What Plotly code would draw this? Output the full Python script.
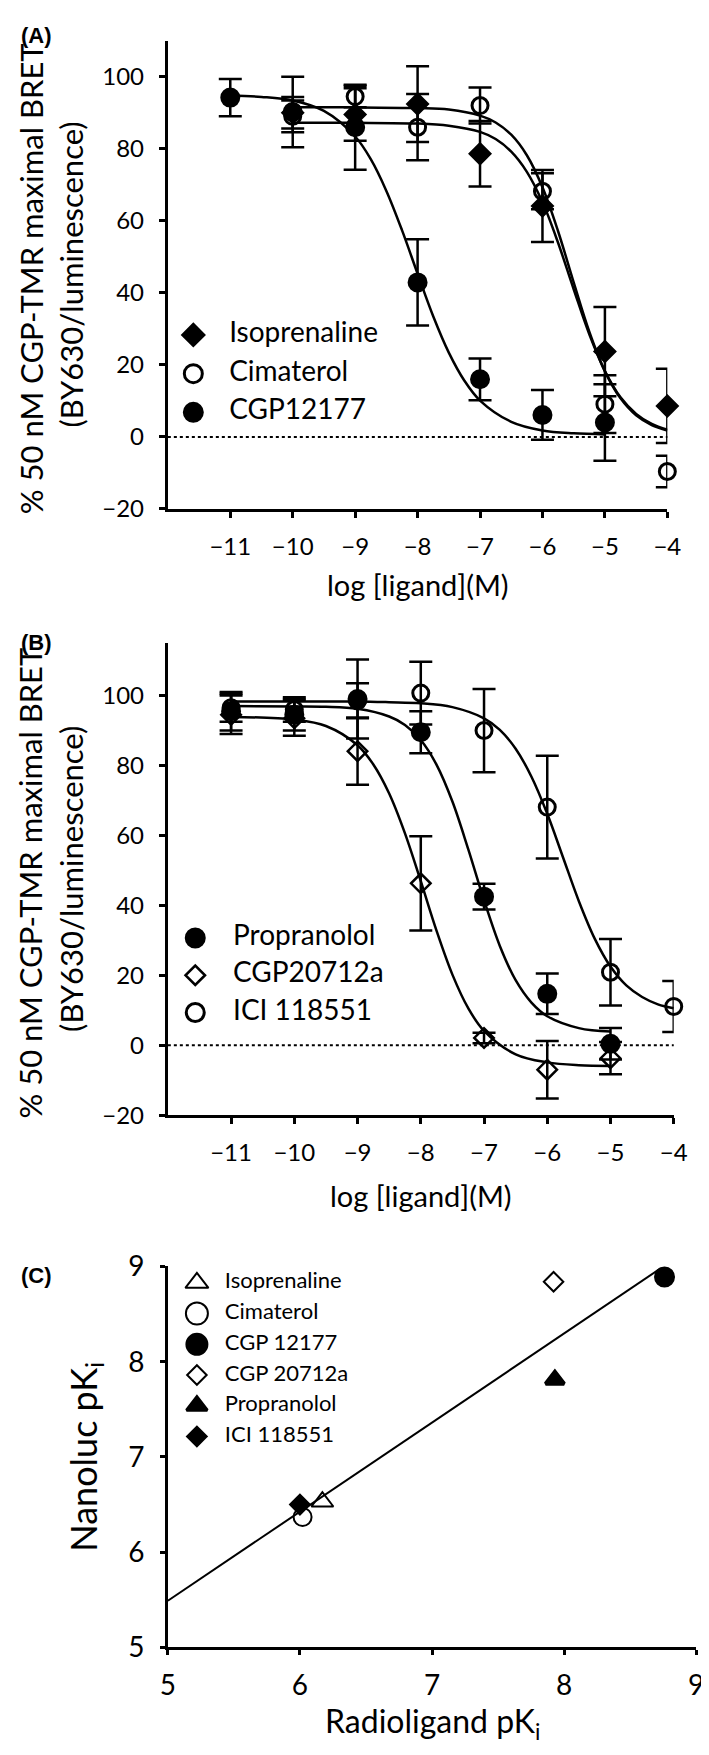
import plotly.graph_objects as go

FONT = "Lato"
W, H = 709, 1755

LOG_DOSE_TICKS = [-11, -10, -9, -8, -7, -6, -5, -4]

# (A) agonists / CGP12177: mean and SEM
ISO_X = [-10, -9, -8, -7, -6, -5, -4]
ISO_Y = [90.0, 89.5, 92.4, 78.6, 64.1, 23.7, 8.6]
ISO_ERR = [4.4, 7.3, 10.5, 9.1, 10.0, 12.4, 10.3]

CIM_X = [-10, -9, -8, -7, -6, -5, -4]
CIM_Y = [89.0, 94.5, 86.0, 92.0, 68.2, 9.1, -9.6]
CIM_ERR = [4.4, 3.0, 9.2, 5.0, 5.0, 8.0, 4.4]

CGP12177_X = [-11, -10, -9, -8, -7, -6, -5]
CGP12177_Y = [94.2, 90.2, 86.0, 42.9, 16.0, 6.1, 4.0]
CGP12177_ERR = [5.2, 9.8, 11.8, 12.0, 5.8, 6.9, 10.6]

# fitted curves in (A)
ISO_FIT_X = [-10, -9, -8, -7.5, -7, -6.75, -6.5, -6.25, -6, -5.75, -5.5, -5.25, -5, -4.75, -4.5, -4.25, -4]
ISO_FIT_Y = [91.5, 91.5, 91.3, 90.9, 89.2, 87.3, 83.9, 78.2, 69.3, 57.1, 42.9, 29.2, 18.2, 10.7, 6.0, 3.3, 1.8]
CIM_FIT_X = ISO_FIT_X
CIM_FIT_Y = [87.2, 87.2, 87.0, 86.4, 84.7, 82.7, 79.2, 73.6, 65.2, 53.9, 41.0, 28.5, 18.3, 11.0, 6.4, 3.6, 2.0]
CGP12177_FIT_X = [-11, -10.5, -10, -9.5, -9, -8.75, -8.5, -8.25, -8, -7.75, -7.5, -7.25, -7, -6.5, -6, -5.5, -5]
CGP12177_FIT_Y = [94.8, 94.4, 93.4, 90.5, 83.4, 77.1, 68.3, 57.4, 45.3, 33.5, 23.4, 15.6, 10.1, 4.2, 1.8, 1.0, 0.7]

# (B) antagonists
PROP_X = [-11, -10, -9, -8, -7, -6, -5]
PROP_Y = [95.5, 94.5, 99.0, 89.5, 42.5, 14.7, 0.4]
PROP_ERR = [5.5, 4.5, 11.3, 6.0, 3.7, 5.8, 4.5]

CGP20712_X = [-11, -10, -9, -8, -7, -6, -5]
CGP20712_Y = [94.5, 93.5, 84.1, 46.3, 2.1, -7.0, -3.7]
CGP20712_ERR = [5.5, 5.0, 9.6, 13.5, 1.5, 8.2, 4.6]

ICI_X = [-11, -10, -9, -8, -7, -6, -5, -4]
ICI_Y = [96.5, 96.0, 98.5, 100.7, 90.0, 68.1, 20.9, 11.1]
ICI_ERR = [4.0, 3.5, 5.0, 9.0, 11.9, 14.7, 9.5, 7.3]

PROP_FIT_X = [-11, -10, -9.5, -9, -8.5, -8.25, -8, -7.75, -7.5, -7.25, -7, -6.75, -6.5, -6.25, -6, -5.5, -5]
PROP_FIT_Y = [97.0, 96.9, 96.8, 96.2, 94.0, 91.6, 87.3, 80.2, 69.7, 56.1, 41.5, 28.4, 18.6, 12.2, 8.3, 4.9, 3.9]
CGP20712_FIT_X = [-11, -10, -9.5, -9, -8.75, -8.5, -8.25, -8, -7.75, -7.5, -7.25, -7, -6.5, -6, -5.5, -5]
CGP20712_FIT_Y = [93.9, 93.1, 91.3, 85.8, 80.3, 72.0, 60.6, 46.9, 32.7, 20.2, 10.6, 4.1, -2.6, -4.9, -5.7, -5.9]
ICI_FIT_X = [-11, -10, -9, -8.5, -8, -7.5, -7, -6.75, -6.5, -6.25, -6, -5.75, -5.5, -5.25, -5, -4.75, -4.5, -4.25, -4]
ICI_FIT_Y = [98.3, 98.3, 98.3, 98.1, 97.8, 96.7, 93.5, 90.2, 84.8, 76.8, 66.2, 53.7, 41.2, 30.5, 22.5, 17.1, 13.8, 11.7, 10.6]

# (C) pKi comparison
LIGANDS_C = ["Isoprenaline", "Cimaterol", "CGP 12177", "CGP 20712a", "Propranolol", "ICI 118551"]
RADIO_PKI = [6.17, 6.02, 8.76, 7.92, 7.93, 6.00]
NANOLUC_PKI = [6.53, 6.37, 8.89, 8.84, 7.81, 6.50]
REGRESSION_X = [5.0, 8.73]
REGRESSION_Y = [5.49, 8.98]

LEGEND_A = ["Isoprenaline", "Cimaterol", "CGP12177"]
LEGEND_B = ["Propranolol", "CGP20712a", "ICI 118551"]

# marker look per ligand in (C): symbol, size, outline width
STYLE_C = [("triangle-up-open", 19, 2), ("circle-open", 18, 2), ("circle", 16, 5),
           ("diamond-open", 15, 2), ("triangle-up", 16, 4), ("diamond", 13, 4)]
KEY_STYLE_A = [("diamond", 14, 5), ("circle-open", 18, 3), ("circle", 16, 5)]
KEY_STYLE_B = [("circle", 16, 5), ("diamond-open", 15, 2.5), ("circle-open", 18, 3)]
KEY_STYLE_C = [("triangle-up-open", 20, 2), ("circle-open", 22, 2), ("circle", 18, 5),
               ("diamond-open", 15, 2), ("triangle-up", 18, 3), ("diamond", 13, 4)]


def px_x(v):
  return v / W


def px_y(v):
  return 1 - v / H


def data_trace(x, y, err, symbol, size, lw, xa, ya):
  return go.Scatter(x=x, y=y, mode="markers",
                    marker=dict(symbol=symbol, size=size, color="black", opacity=1,
                                line=dict(color="black", width=lw)),
                    error_y=dict(type="data", array=err, color="black",
                                 thickness=2.5, width=11.5),
                    xaxis=xa, yaxis=ya, cliponaxis=False)


def fit_trace(x, y, xa, ya):
  return go.Scatter(x=x, y=y, mode="lines",
                    line=dict(color="black", width=2.5, shape="spline"),
                    xaxis=xa, yaxis=ya, hoverinfo="skip")


def key_traces(names, styles, font_size, xa, ya):
  """Legend block: a symbol column and a label column on a small hidden category axis."""
  symbols, sizes, widths = zip(*styles)
  keys = go.Scatter(x=["key"] * len(names), y=names, mode="markers", hoverinfo="skip",
                    marker=dict(symbol=list(symbols), size=list(sizes), color="black",
                                opacity=1, line=dict(color="black", width=list(widths))),
                    xaxis=xa, yaxis=ya, cliponaxis=False)
  labels = go.Scatter(x=["label"] * len(names), y=names, mode="text", text=names,
                      textposition="middle right", hoverinfo="skip",
                      textfont=dict(family=FONT, size=font_size, color="black"),
                      xaxis=xa, yaxis=ya, cliponaxis=False)
  return [keys, labels]


def key_axes(n, names, key_px, label_px, first_row_px, last_row_px):
  half = (label_px - key_px) / 2
  step = (last_row_px - first_row_px) / (len(names) - 1)
  xa = dict(domain=[px_x(key_px - half), px_x(label_px + half)], type="category",
            categoryarray=["key", "label"], range=[-0.5, 1.5], visible=False,
            anchor=f"y{n}", fixedrange=True)
  ya = dict(domain=[px_y(last_row_px + step / 2), px_y(first_row_px - step / 2)],
            type="category", categoryarray=names[::-1], range=[-0.5, len(names) - 0.5],
            visible=False, anchor=f"x{n}", fixedrange=True)
  return {f"xaxis{n}": xa, f"yaxis{n}": ya}


fig = go.Figure()

# panel A
fig.add_trace(fit_trace(ISO_FIT_X, ISO_FIT_Y, "x", "y"))
fig.add_trace(fit_trace(CIM_FIT_X, CIM_FIT_Y, "x", "y"))
fig.add_trace(fit_trace(CGP12177_FIT_X, CGP12177_FIT_Y, "x", "y"))
fig.add_trace(data_trace(ISO_X, ISO_Y, ISO_ERR, "diamond", 13, 5, "x", "y"))
fig.add_trace(data_trace(CIM_X, CIM_Y, CIM_ERR, "circle-open", 16, 3, "x", "y"))
fig.add_trace(data_trace(CGP12177_X, CGP12177_Y, CGP12177_ERR, "circle", 15, 5, "x", "y"))

# panel B
fig.add_trace(fit_trace(PROP_FIT_X, PROP_FIT_Y, "x2", "y2"))
fig.add_trace(fit_trace(CGP20712_FIT_X, CGP20712_FIT_Y, "x2", "y2"))
fig.add_trace(fit_trace(ICI_FIT_X, ICI_FIT_Y, "x2", "y2"))
fig.add_trace(data_trace(ICI_X, ICI_Y, ICI_ERR, "circle-open", 16, 3, "x2", "y2"))
fig.add_trace(data_trace(CGP20712_X, CGP20712_Y, CGP20712_ERR, "diamond-open", 15, 2.5, "x2", "y2"))
fig.add_trace(data_trace(PROP_X, PROP_Y, PROP_ERR, "circle", 15, 5, "x2", "y2"))

# panel C
fig.add_trace(go.Scatter(x=REGRESSION_X, y=REGRESSION_Y, mode="lines",
                         line=dict(color="black", width=2), xaxis="x3", yaxis="y3"))
for rx, ny, (sym, size, lw) in zip(RADIO_PKI, NANOLUC_PKI, STYLE_C):
  fig.add_trace(go.Scatter(x=[rx], y=[ny], mode="markers",
                           marker=dict(symbol=sym, size=size, color="black", opacity=1,
                                       line=dict(color="black", width=lw)),
                           xaxis="x3", yaxis="y3", cliponaxis=False))

# legends
for t in key_traces(LEGEND_A, KEY_STYLE_A, 28, "x4", "y4"):
  fig.add_trace(t)
for t in key_traces(LEGEND_B, KEY_STYLE_B, 28, "x5", "y5"):
  fig.add_trace(t)
for t in key_traces(LIGANDS_C, KEY_STYLE_C, 22, "x6", "y6"):
  fig.add_trace(t)

# dotted zero lines
for xr, yr in (("x domain", "y"), ("x2 domain", "y2")):
  fig.add_shape(type="line", xref=xr, yref=yr, x0=0, x1=1, y0=0, y1=0,
                line=dict(color="black", width=2, dash="dot"))

axis_base = dict(showline=True, linecolor="black", linewidth=3, ticks="outside",
                 ticklen=6, tickwidth=3, tickcolor="black", showgrid=False,
                 zeroline=False, tickfont=dict(family=FONT, size=24, color="black"))

fig.update_layout(
    width=W, height=H, autosize=False, showlegend=False,
    margin=dict(l=0, r=0, t=0, b=0),
    paper_bgcolor="white", plot_bgcolor="rgba(0,0,0,0)",
    font=dict(family=FONT, color="black"),
    xaxis=dict(axis_base, domain=[px_x(156.7), px_x(672.2)], range=[-12, -4],
               tickmode="array", tickvals=LOG_DOSE_TICKS, anchor="y", ticklabelstandoff=8),
    yaxis=dict(axis_base, domain=[px_y(492.5), px_y(15)], range=[-20, 110],
               tick0=-20, dtick=20, anchor="x", ticklabelstandoff=10),
    xaxis2=dict(axis_base, domain=[px_x(156.7), px_x(678.8)], range=[-12, -4],
                tickmode="array", tickvals=LOG_DOSE_TICKS, anchor="y2", ticklabelstandoff=8),
    yaxis2=dict(axis_base, domain=[px_y(1110.7), px_y(629.3)], range=[-20, 115],
                tick0=-20, dtick=20, anchor="x2", ticklabelstandoff=10),
    xaxis3=dict(axis_base, domain=[px_x(156.7), px_x(702)], range=[5, 9], dtick=1,
                anchor="y3", tickfont=dict(family=FONT, size=28, color="black"),
                linewidth=2.5, ticklen=5, tickwidth=2.5, ticklabelstandoff=6),
    yaxis3=dict(axis_base, domain=[px_y(1653.5), px_y(1265)], range=[5, 9], dtick=1,
                anchor="x3", tickfont=dict(family=FONT, size=28, color="black"),
                linewidth=2.5, ticklen=5, tickwidth=2.5, ticklabelstandoff=10),
    **key_axes(4, LEGEND_A, 183, 220, 315, 394),
    **key_axes(5, LEGEND_B, 185, 224, 930, 1006),
    **key_axes(6, LIGANDS_C, 186.7, 215.5, 1281.7, 1438.3),
)

annotations = [
    dict(text="<b>(A)</b>", x=px_x(3), y=px_y(10)),
    dict(text="<b>(B)</b>", x=px_x(3), y=px_y(629)),
    dict(text="<b>(C)</b>", x=px_x(3), y=px_y(1274)),
]
for a in annotations:
  a.update(xref="paper", yref="paper", xanchor="left", yanchor="middle", showarrow=False,
           font=dict(family="Liberation Sans", size=22, color="black"))
  fig.add_annotation(**a)

titles = [
    ("log [ligand](M)", (156.7 + 672.2) / 2, 570, 0, 29),
    ("log [ligand](M)", (156.7 + 678.8) / 2, 1193, 0, 29),
    ("Radioligand pK<sub>i</sub>", (156.7 + 702) / 2, 1731, 0, 32),
    ("% 50 nM CGP-TMR maximal BRET", 15, (15 + 492.5) / 2 + 4, -90, 31),
    ("(BY630/luminescence)", 56.5, (15 + 492.5) / 2, -90, 31),
    ("% 50 nM CGP-TMR maximal BRET", 15, (629.3 + 1110.7) / 2 + 4, -90, 31),
    ("(BY630/luminescence)", 56.5, (629.3 + 1110.7) / 2, -90, 31),
    ("Nanoluc pK<sub>i</sub>", 72, (1265 + 1653.5) / 2, -90, 36),
]
for text, x, y, ang, size in titles:
  fig.add_annotation(text=text, x=px_x(x), y=px_y(y), xref="paper", yref="paper",
                     xanchor="center", yanchor="middle", textangle=ang, showarrow=False,
                     font=dict(family=FONT, size=size, color="black"))

fig.write_html("out.html")
